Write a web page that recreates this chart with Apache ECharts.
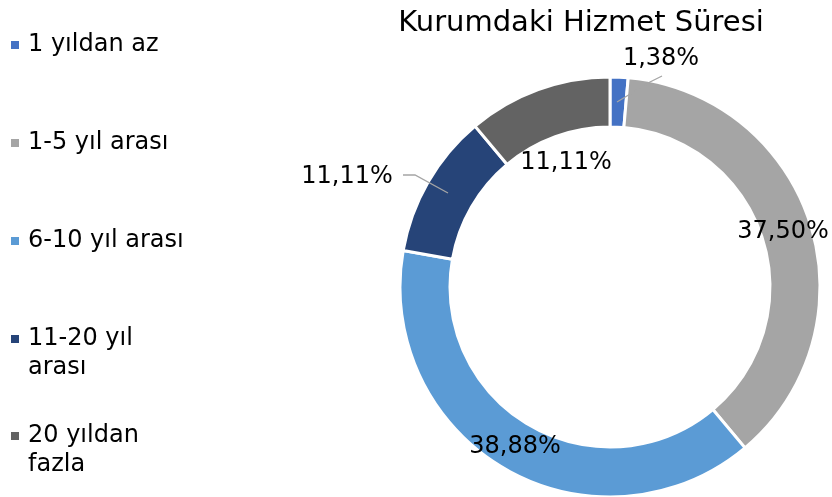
<!DOCTYPE html>
<html>
<head>
<meta charset="utf-8">
<script src="https://cdn.jsdelivr.net/npm/echarts@6/dist/echarts.min.js"></script>
<style>
  html, body { margin: 0; padding: 0; background: #fff; }
  #pieChart { width: 832px; height: 497px; }
</style>
</head>
<body>
<div id="pieChart"></div>
<script>
// veriler
const categories = ['1 yıldan az', '1-5 yıl arası', '6-10 yıl arası', '11-20 yıl\narası', '20 yıldan\nfazla']
const values = [1.38, 37.50, 38.88, 11.11, 11.11]
const colors = ['#4472C4', '#A5A5A5', '#5B9BD5', '#264478', '#636363']

// etiket konumları (Excel'deki gibi elle yerleştirilmiş)
const labelPos = [[661, 59], [783, 232], [515, 447], [347, 177], [566, 163]]
const legendIconY = [45, 143, 241, 339, 436]

const font = 'DejaVu Sans'
const myChart = echarts.init(document.getElementById('pieChart'))

// her lejant öğesi ayrı; iki satırlı olanlarda kare ilk satırla hizalı
const legends = categories.map((name, i) => {
  const twoLine = name.indexOf('\n') >= 0
  return {
    data: [name],
    left: 11,
    top: twoLine ? legendIconY[i] - 43.5 : legendIconY[i] - 14.5,
    padding: 0,
    orient: 'vertical',
    icon: 'rect',
    itemWidth: 8,
    itemHeight: 8,
    itemStyle: { borderWidth: 0 },
    selectedMode: false,
    formatter: n => (n.indexOf('\n') >= 0 ? '\n' + n : n),
    textStyle: {
      fontFamily: font,
      fontSize: 24,
      color: '#000',
      lineHeight: 29,
      padding: [0, 0, 0, 4]
    }
  }
})

const pieBase = {
  type: 'pie',
  center: [610, 287],
  radius: [160, 210],
  startAngle: 90,
  clockwise: true,
  avoidLabelOverlap: false,
  data: categories.map((name, i) => ({ name: name, value: values[i] }))
}

const options = {
  backgroundColor: '#FFF',
  color: colors,
  animation: false,
  title: {
    text: 'Kurumdaki Hizmet Süresi',
    left: 576,
    top: 4,
    textAlign: 'center',
    textStyle: {
      fontFamily: font,
      fontSize: 29,
      fontWeight: 'normal',
      color: '#000'
    }
  },
  legend: legends,
  series: [
    Object.assign({}, pieBase, {
      itemStyle: { borderColor: '#fff', borderWidth: 3 },
      label: { show: false },
      labelLine: { show: false }
    }),
    // etiketler ve kılavuz çizgiler dilimlerin üstünde kalsın diye ikinci katman
    Object.assign({}, pieBase, {
      z: 5,
      silent: true,
      itemStyle: { color: 'rgba(0,0,0,0)', borderWidth: 0 },
      label: {
        show: true,
        position: 'outside',
        fontFamily: font,
        fontSize: 24,
        color: '#000',
        formatter: p => p.value.toFixed(2).replace('.', ',') + '%'
      },
      labelLine: {
        show: true,
        lineStyle: { color: '#A5A5A5', width: 1.3 }
      },
      labelLayout: p => {
        const pos = labelPos[p.dataIndex]
        const out = { x: pos[0], y: pos[1], align: 'center', verticalAlign: 'middle' }
        if (p.dataIndex === 0) out.labelLinePoints = [[617, 102], [650, 82], [662, 76]]
        if (p.dataIndex === 3) out.labelLinePoints = [[448, 193], [415, 175], [403, 175]]
        return out
      },
      data: categories.map((name, i) => ({
        name: name,
        value: values[i],
        labelLine: { show: i === 0 || i === 3 }
      }))
    })
  ]
}
myChart.setOption(options)
</script>
</body>
</html>
